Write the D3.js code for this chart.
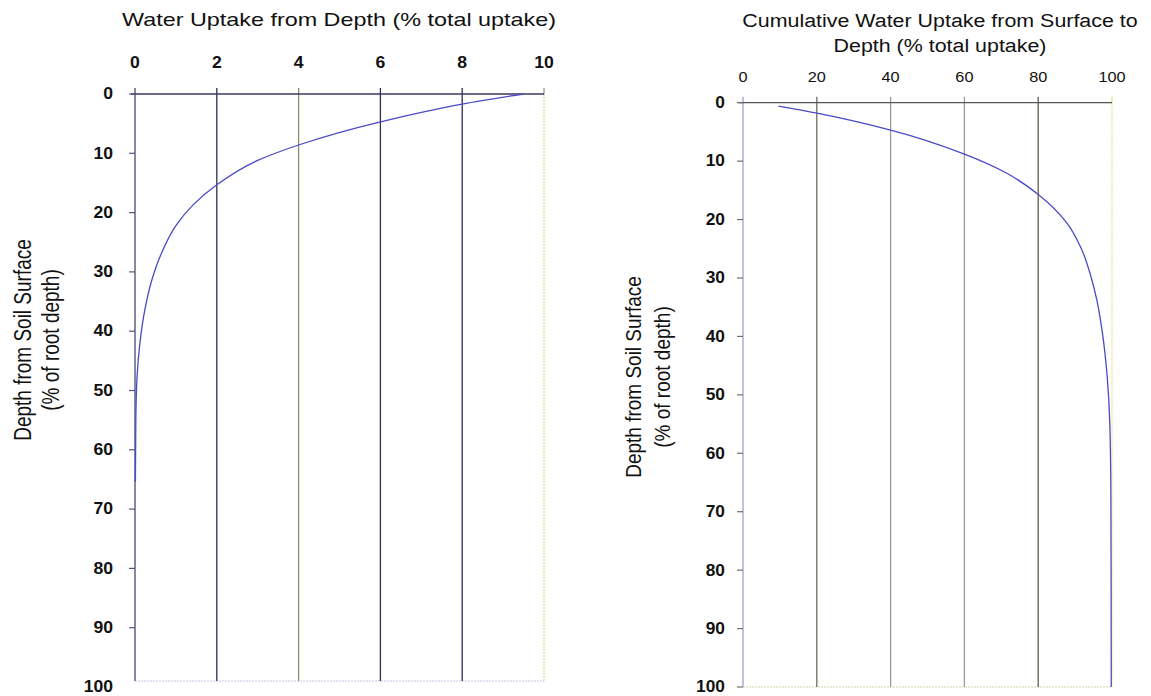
<!DOCTYPE html>
<html>
<head>
<meta charset="utf-8">
<script src="https://cdn.jsdelivr.net/npm/d3@7"></script>
<style>
  body { margin: 0; background: #fff; }
  svg { display: block; font-family: "Liberation Sans", Arial, sans-serif; }
</style>
</head>
<body>
<svg id="chart" width="1151" height="696"></svg>
<script>
// uptake per depth (left panel)
var uptakeDepth = [0, 1.7, 4.7, 8.6, 11.2, 15.3, 18.7, 22.2, 26.8, 31.4, 36.4, 42, 47.7, 55, 65.4];
var uptakeValue = [9.5, 8, 6, 4, 3, 2, 1.42, 1.0, 0.65, 0.41, 0.24, 0.12, 0.05, 0.02, 0.01];

// cumulative uptake (right panel)
var cumDepth = [0.6, 1.8, 4.7, 8.8, 11.9, 15.7, 20.6, 25, 30, 33.8, 39.4, 46.9, 54.8, 67.6, 100];
var cumValue = [9.6, 20, 40, 60, 71, 80, 87.8, 91.7, 94.4, 95.9, 97.4, 98.7, 99.4, 99.7, 99.8];

var leftXTicks = [0, 2, 4, 6, 8, 10];
var rightXTicks = [0, 20, 40, 60, 80, 100];
var depthTicks = [0, 10, 20, 30, 40, 50, 60, 70, 80, 90, 100];

var svg = d3.select('#chart');

function stretchText(g, x, y, sx, rot) {
  return g.append('text')
    .attr('transform', 'translate(' + x + ',' + y + ') scale(' + sx + ',1)' + (rot ? ' rotate(' + rot + ')' : ''));
}

function panel(o) {
  var g = svg.append('g');
  var x = d3.scaleLinear().domain(o.xDomain).range([o.x0, o.x1]);
  var y = d3.scaleLinear().domain([0, 100]).range([o.yTop, o.yBottom]);
  var bottom = o.frameBottom;

  // frame: right + bottom dotted
  g.append('line').attr('x1', o.x1).attr('x2', o.x1).attr('y1', o.yTop).attr('y2', bottom)
    .attr('stroke', o.rightCol).attr('stroke-width', 1.2).attr('stroke-dasharray', '2,1');
  g.append('line').attr('x1', o.x0).attr('x2', o.x1).attr('y1', bottom).attr('y2', bottom)
    .attr('stroke', o.bottomCol).attr('stroke-width', 1.2).attr('stroke-dasharray', '2,1');

  // gridlines (vertical) with top ticks
  g.selectAll('.grid').data(o.xTicks).enter().append('line')
    .attr('x1', function(d) { return x(d); })
    .attr('x2', function(d) { return x(d); })
    .attr('y1', o.yTop - 6)
    .attr('y2', function(d, i) { return (i == 0 || i == o.xTicks.length - 1) ? o.yTop : bottom; })
    .attr('stroke', function(d, i) { return o.gridCols[i]; })
    .attr('stroke-width', 1.3);

  // left axis line
  g.append('line').attr('x1', o.x0).attr('x2', o.x0).attr('y1', o.yTop).attr('y2', bottom)
    .attr('stroke', o.axisCol).attr('stroke-width', 1.4);
  // top axis line
  g.append('line').attr('x1', o.x0 - 4).attr('x2', o.x1).attr('y1', o.yTop).attr('y2', o.yTop)
    .attr('stroke', o.topCol).attr('stroke-width', 1.3);

  // y ticks
  g.selectAll('.yt').data(depthTicks.filter(function(d) { return y(d) <= bottom + 0.5; }))
    .enter().append('line')
    .attr('x1', o.x0 - 6).attr('x2', o.x0)
    .attr('y1', function(d) { return y(d); })
    .attr('y2', function(d) { return y(d); })
    .attr('stroke', o.tickCol).attr('stroke-width', 1.2);

  // y tick labels
  depthTicks.forEach(function(d) {
    stretchText(g, o.yLabelX, y(d), o.tsx)
      .attr('text-anchor', 'end').attr('dominant-baseline', 'central')
      .attr('font-size', o.yTickSize).attr('font-weight', 'bold').attr('fill', '#111')
      .text(d);
  });

  // x tick labels (top)
  o.xTicks.forEach(function(d) {
    stretchText(g, x(d), o.xLabelY, o.tsx)
      .attr('text-anchor', 'middle').attr('dominant-baseline', 'central')
      .attr('font-size', o.xTickSize).attr('font-weight', o.xTickWeight).attr('fill', '#111')
      .text(d);
  });

  // titles
  o.title.forEach(function(t, i) {
    stretchText(g, o.titleX, o.titleY + i * 25, o.sx)
      .attr('text-anchor', 'middle').attr('dominant-baseline', 'central')
      .attr('font-size', 19).attr('fill', '#111')
      .text(t);
  });
  o.yTitle.forEach(function(t, i) {
    stretchText(g, o.yTitleX[i], o.yTitleY, o.sx, -90)
      .attr('text-anchor', 'middle').attr('dominant-baseline', 'central')
      .attr('font-size', 19).attr('fill', '#111')
      .text(t);
  });

  // curve
  var pts = o.depth.map(function(d, i) { return [o.values[i], d]; });
  var line = d3.line()
    .x(function(d) { return x(d[0]); })
    .y(function(d) { return y(d[1]); })
    .curve(d3.curveMonotoneY);
  g.append('path').datum(pts)
    .attr('d', line)
    .attr('fill', 'none')
    .attr('stroke', '#4a4ac8')
    .attr('stroke-width', 1.3);
}

panel({
  xDomain: [0, 10], x0: 135, x1: 544, yTop: 94, yBottom: 687, frameBottom: 681,
  xTicks: leftXTicks,
  gridCols: ['#44446a', '#2e2e5c', '#8a8a70', '#2e2e5c', '#2e2e5c', '#9a9a80'],
  axisCol: '#55557a', topCol: '#3a3a5a', tickCol: '#55557a',
  rightCol: '#dede9a', bottomCol: '#c8c8e4',
  sx: 1.23, tsx: 1.1, yLabelX: 113, yTickSize: 16, xTickSize: 16, xTickWeight: 'bold', xLabelY: 63,
  title: ['Water Uptake from Depth (% total uptake)'], titleX: 339, titleY: 20,
  yTitle: ['Depth from Soil Surface', '(% of root depth)'], yTitleX: [23, 51], yTitleY: 340,
  depth: uptakeDepth, values: uptakeValue
});

panel({
  xDomain: [0, 100], x0: 743, x1: 1112, yTop: 102.7, yBottom: 687, frameBottom: 687,
  xTicks: rightXTicks,
  gridCols: ['#a0a0c0', '#6e6e5e', '#9a9a8a', '#9a9a9a', '#5e5e50', '#e0e090'],
  axisCol: '#a8a8c8', topCol: '#555555', tickCol: '#707070',
  rightCol: '#e4e48c', bottomCol: '#d4d4a8',
  sx: 1.127, tsx: 1.05, yLabelX: 725, yTickSize: 16.5, xTickSize: 15.5, xTickWeight: 'normal', xLabelY: 77,
  title: ['Cumulative Water Uptake from Surface to', 'Depth (% total uptake)'], titleX: 940, titleY: 20,
  yTitle: ['Depth from Soil Surface', '(% of root depth)'], yTitleX: [634, 663], yTitleY: 377,
  depth: cumDepth, values: cumValue
});
</script>
</body>
</html>
